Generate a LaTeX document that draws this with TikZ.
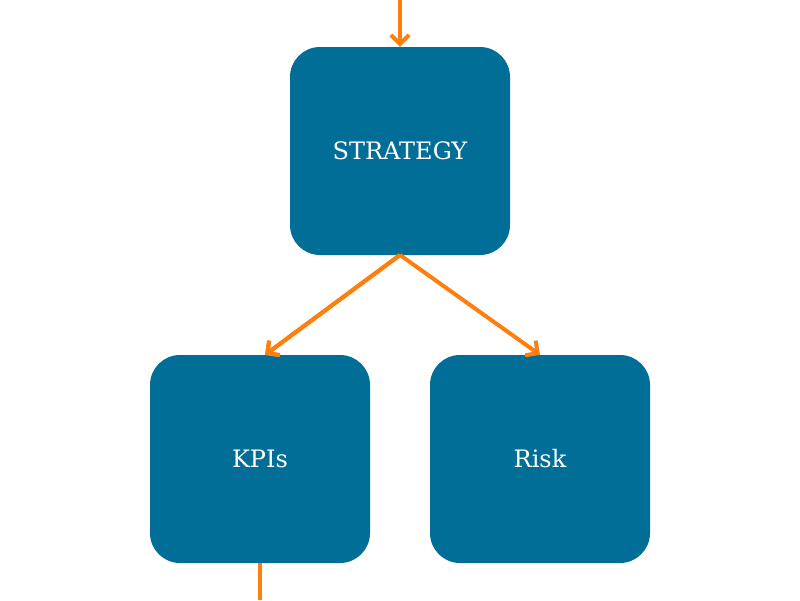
\documentclass[tikz,border=0pt]{standalone}
\usepackage{fontspec}
\setmainfont{DejaVu Serif}
\usetikzlibrary{arrows.meta}
\definecolor{boxc}{HTML}{006E96}
\definecolor{arrc}{HTML}{FF7F0E}
\begin{document}
\begin{tikzpicture}[x=1pt,y=-1pt,
  box/.style={fill=boxc,rounded corners=30pt,minimum width=220pt,minimum height=208pt,text=white,font=\fontsize{24}{28}\selectfont,inner sep=0pt},
  conn/.style={draw=arrc,line width=4pt,-{Straight Barb[length=9pt,width=18pt,line width=4pt]}}]
\useasboundingbox (0,0) rectangle (800,600);
\node[box] (s) at (400,151) {STRATEGY};
\node[box] (k) at (260,459) {KPIs};
\node[box] (r) at (540,459) {Risk};
\coordinate (top) at (400,0);
\coordinate (bot) at (260,600);
\coordinate (sb) at (400,255);
\draw[conn] (top) -- (s.north);
\draw[conn] (sb) -- (265,355);
\draw[conn] (sb) -- (k.north -| 265,0) ;
\draw[conn] (sb) -- (r.north);
\draw[draw=arrc,line width=4pt] (k.south) -- (bot);
\end{tikzpicture}
\end{document}
